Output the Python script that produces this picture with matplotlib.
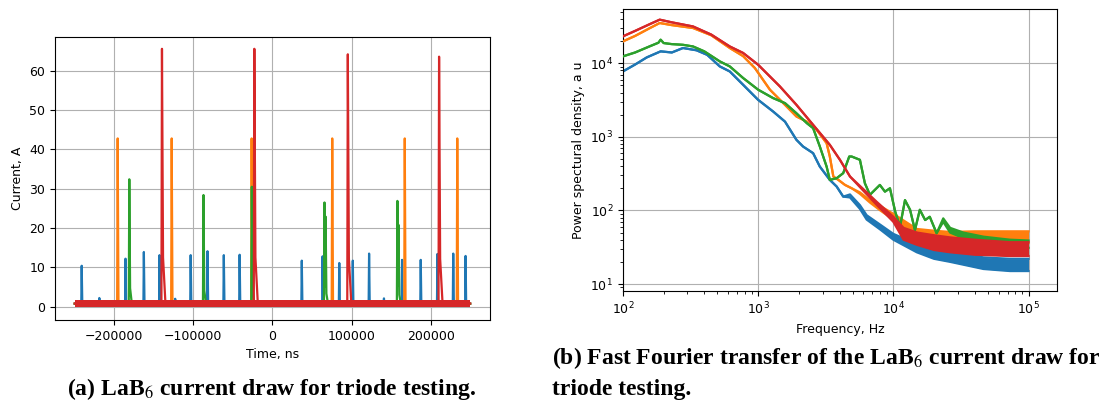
import numpy as np
import matplotlib
matplotlib.use("Agg")
import matplotlib.pyplot as plt

plt.rcParams["font.family"] = ["DejaVu Sans"]
plt.rcParams["mathtext.fontset"] = "stix"

# ---------------- current draw (A) vs time (ns) ----------------
t_start, t_end = -250000, 250000

blue_t = [-241200, -218900, -185800, -162600, -142800, -123000, -103400, -82100,
          -61500, -41500, 37100, 63400, 84500, 101600, 122200, 141000, 163900,
          187500, 208600, 228600, 244200]
blue_a = [10.4, 2.2, 12.2, 13.9, 13.1, 2.0, 13.1, 14.1, 13.1, 13.2, 11.7, 12.8,
          11.1, 11.7, 13.5, 2.1, 11.9, 11.9, 13.4, 13.5, 12.9]

orange_t = [-195700, -127400, -26300, 75600, 167300, 233700]
orange_a = [42.8, 42.8, 42.8, 42.8, 42.8, 42.8]

green_t = [-181000, -87200, -26100, 65800, 67200, 158000, 159400]
green_a = [32.4, 28.4, 30.5, 26.5, 22.9, 26.9, 20.8]

red_t = [-139700, -22900, 95300, 210700]
red_a = [65.6, 65.6, 64.2, 63.6]

# baseline noise band (A) of each channel
base_lo = [0.2, 0.2, 0.2, 0.0]
base_hi = [1.3, 1.3, 1.3, 1.6]

# ---------------- power spectral density ----------------
red_f = [100, 123, 158, 187, 229, 330, 450, 617, 774, 1000, 1450, 1920, 2550,
         3390, 4030, 4780, 6000, 7500, 10000, 11900, 15000, 20000, 26300, 40000,
         73000, 100000]
red_lo = [23200, 27500, 34000, 39100, 36000, 31600, 24500, 16900, 13800, 9540,
          4830, 2720, 1455, 778, 486, 289, 185, 120, 70, 40, 34, 29, 27, 25, 24, 24]
red_hi = [23200, 27500, 34000, 39100, 36000, 31600, 24500, 16900, 13800, 9540,
          4830, 2720, 1455, 778, 486, 289, 195, 132, 82, 58, 50, 46, 43, 40, 37, 37]

orange_f = [100, 123, 158, 187, 229, 330, 450, 617, 774, 946, 1222, 1580, 1920,
            2290, 2710, 3210, 3390, 3600, 3920, 4390, 4920, 5660, 6710, 8000,
            10000, 14900, 20000, 26300, 40000, 73000, 100000]
orange_lo = [19800, 23500, 30000, 35200, 33000, 30100, 24000, 16100, 12500, 8600,
             4370, 2720, 1890, 1610, 1245, 820, 540, 289, 260, 222, 200, 168, 128,
             100, 75, 44, 38, 35, 36, 36, 36]
orange_hi = [19800, 23500, 30000, 35200, 33000, 30100, 24000, 16100, 12500, 8600,
             4370, 2720, 1890, 1610, 1245, 820, 540, 289, 260, 222, 200, 176, 138,
             115, 90, 56, 53, 51, 52, 52, 52]

green_f = [100, 123, 158, 183, 190, 200, 229, 278, 330, 400, 520, 617, 774, 1000,
           1290, 1580, 1920, 2290, 2550, 2860, 3210, 3390, 3810, 4260, 4720, 4920,
           5660, 6160, 6710, 7950, 8670, 9440, 10330, 11200, 12200, 13300, 14450,
           15700, 17200, 18600, 20900, 23400, 26300, 33000, 46400, 73000, 100000]
green_lo = [12400, 14000, 17000, 19000, 20900, 18800, 18200, 17800, 16900, 14500,
            10600, 9050, 6300, 4370, 3360, 2870, 2090, 1535, 1313, 738, 394, 260,
            274, 321, 540, 540, 487, 234, 163, 222, 180, 200, 96, 60, 138, 102, 54,
            102, 74, 82, 49, 70, 50, 42, 36, 32, 31]
green_hi = [12400, 14000, 17000, 19000, 20900, 18800, 18200, 17800, 16900, 14500,
            10600, 9050, 6300, 4370, 3360, 2870, 2090, 1535, 1313, 738, 394, 260,
            274, 321, 540, 540, 487, 234, 163, 222, 180, 200, 96, 60, 138, 102, 54,
            102, 74, 82, 49, 78, 58, 50, 44, 40, 39]

blue_f = [100, 123, 150, 190, 230, 278, 350, 420, 520, 617, 774, 1000, 1290, 1580,
          1920, 2150, 2550, 2860, 3390, 3810, 4260, 4780, 5660, 6350, 8000, 10000,
          14900, 20000, 26300, 46400, 73000, 100000]
blue_lo = [7740, 9600, 12000, 14500, 14000, 16100, 15000, 13000, 9060, 7730, 5100,
           3180, 2210, 1610, 910, 738, 600, 394, 260, 211, 154, 150, 105, 75, 55,
           40, 27, 22, 20, 16, 15, 15]
blue_hi = [7740, 9600, 12000, 14500, 14000, 16100, 15000, 13000, 9060, 7730, 5100,
           3180, 2210, 1610, 910, 738, 600, 394, 260, 211, 154, 165, 118, 86, 64,
           48, 35, 30, 28, 23, 22, 22]

colors = ["#1f77b4", "#ff7f0e", "#2ca02c", "#d62728"]

fig = plt.figure(figsize=(11.15, 4.09), dpi=100)
ax1 = fig.add_axes([0.0493, 0.2176, 0.3901, 0.6919])
ax2 = fig.add_axes([0.5587, 0.2885, 0.3892, 0.6895])

# pulse templates: offsets (ns) from the peak and fraction of the peak
shapes = [
    ([-600, 0, 700], [0.0, 1.0, 0.0]),
    ([-700, 0, 900], [0.0, 1.0, 0.0]),
    ([-700, 0, 900, 3500], [0.0, 1.0, 0.15, 0.0]),
    ([-700, 0, 1200, 4500], [0.0, 1.0, 0.2, 0.0]),
]

t = np.linspace(t_start, t_end, 10001)
channels = [(blue_t, blue_a), (orange_t, orange_a), (green_t, green_a), (red_t, red_a)]
for i, (times, amps) in enumerate(channels):
    offs, fr = shapes[i]
    mid = 0.5 * (base_lo[i] + base_hi[i])
    trace = np.full_like(t, mid)
    for tc, a in zip(times, amps):
        pulse = np.interp(t, tc + np.array(offs), a * np.array(fr), left=0, right=0)
        trace = np.maximum(trace, pulse)
    ax1.fill_between([t_start, t_end], base_lo[i], base_hi[i], color=colors[i],
                     lw=0, zorder=2 + i)
    ax1.plot(t, trace, color=colors[i], lw=1.6, zorder=2 + i)

ax1.set_xlim(-275000, 275000)
ax1.set_ylim(-3.4, 68.6)
ax1.set_xticks([-200000, -100000, 0, 100000, 200000])
ax1.grid(True, color="#b0b0b0", lw=0.8)
ax1.set_axisbelow(True)
ax1.set_xlabel("Time, ns", fontsize=9)
ax1.set_ylabel("Current, A", fontsize=9)
ax1.tick_params(labelsize=9)

psd = [(blue_f, blue_lo, blue_hi), (orange_f, orange_lo, orange_hi),
       (green_f, green_lo, green_hi), (red_f, red_lo, red_hi)]
for i, (f, lo, hi) in enumerate(psd):
    ax2.fill_between(f, lo, hi, color=colors[i], lw=0, zorder=2 + i)
    ax2.plot(f, lo, color=colors[i], lw=1.6, zorder=2 + i)
    ax2.plot(f, hi, color=colors[i], lw=1.6, zorder=2 + i)

ax2.set_xscale("log")
ax2.set_yscale("log")
ax2.set_xlim(100, 10 ** 5.21)
ax2.set_ylim(10 ** 0.905, 10 ** 4.737)
ax2.grid(True, which="major", color="#b0b0b0", lw=0.8)
ax2.set_axisbelow(True)
ax2.set_xlabel("Frequency, Hz", fontsize=9)
ax2.set_ylabel("Power spectural density, a u", fontsize=9)
ax2.tick_params(labelsize=9)

cap = dict(family="Liberation Serif", weight="bold", fontsize=17, va="baseline")
fig.text(0.2439, 0.034, "(a) LaB$_6$ current draw for triode testing.", ha="center", **cap)
fig.text(0.495, 0.110, "(b) Fast Fourier transfer of the LaB$_6$ current draw for",
         ha="left", **cap)
fig.text(0.495, 0.034, "triode testing.", ha="left", **cap)

fig.savefig("out.png", dpi=100)
